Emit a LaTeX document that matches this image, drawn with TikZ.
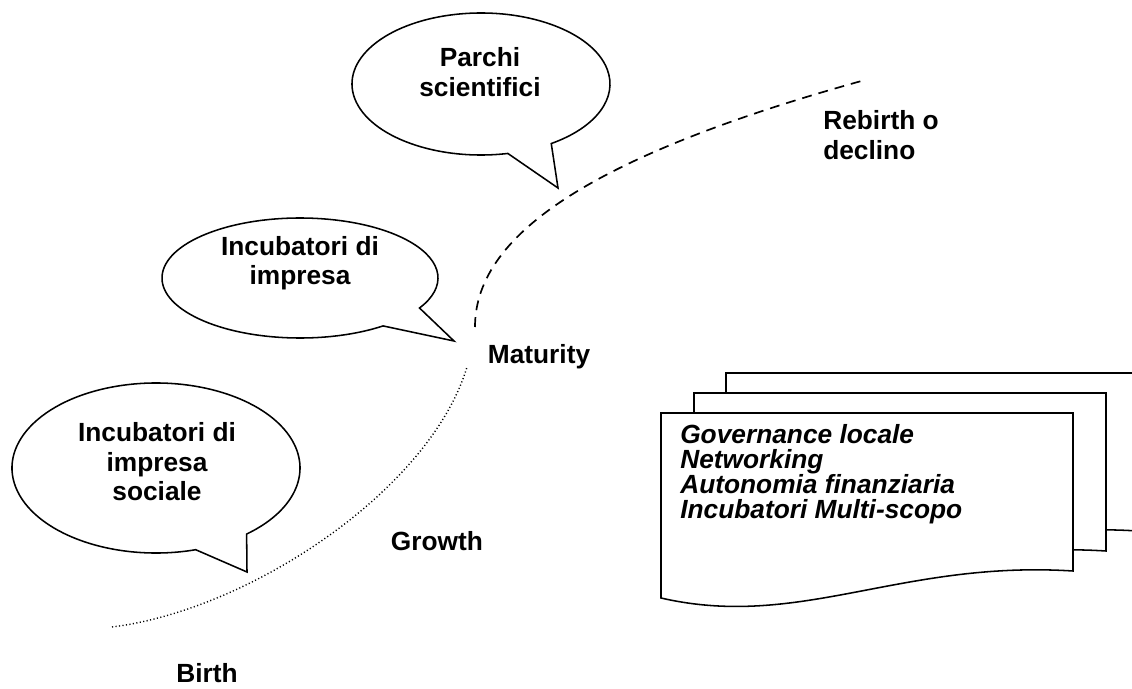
\documentclass[tikz,border=0pt]{standalone}
\usepackage{fontspec}
\setmainfont{Liberation Sans}
\tikzset{
  etiq/.style={font=\bfseries\fontsize{18.7}{21}\selectfont, align=center, inner sep=0pt},
  bulle/.style={draw, line width=1.1pt, fill=white, line join=miter},
  feuille/.style={draw, line width=1.1pt, fill=white},
  tratteggio/.style={line width=1.2pt, dash pattern=on 7pt off 5pt},
  puntini/.style={line width=1pt, dash pattern=on 0.8pt off 1.7pt}
}
\begin{document}
\begin{tikzpicture}[x=0.025cm, y=-0.025cm]
\useasboundingbox (0,0) rectangle (1132,689);
\clip (0,0) rectangle (1132,689);

% bulles
\draw [bulle] (481,84) ++(78:129 and 71) arc[start angle=78, end angle=417, x radius=129, y radius=71] -- (558,188) -- cycle;
\draw [bulle] (300,278) ++(53:138 and 60) arc[start angle=53, end angle=390, x radius=138, y radius=60] -- (454,341) -- cycle;
\draw [bulle] (156,468) ++(74:144 and 85) arc[start angle=74, end angle=411, x radius=144, y radius=85] -- (247,572) -- cycle;
\node [etiq] (parchi) at (480,72) {Parchi\\scientifici};
\node [etiq] (incub) at (300,263) {Incubatori di\\impresa};
\node [etiq] (sociale) at (157,462) {Incubatori di\\impresa\\sociale};

% courbe
\coordinate (nascita) at (112,627);
\coordinate (crescita) at (467,367);
\coordinate (maturo) at (475,327);
\coordinate (rinascita) at (865,80);
\draw [puntini] (nascita) .. controls (250,610) and (430,490) .. (crescita);
\draw [tratteggio] (maturo) .. controls (475,230) and (605,152) .. (rinascita);

\node [etiq] (birth) at (207,673) {Birth};
\node [etiq] (growth) at (437,541) {Growth};
\node [etiq] (maturity) at (539,357) {Maturity};
\node [etiq, align=left, anchor=west] (rebirth) at (823,135) {Rebirth o\\declino};

% documents
\foreach \dx/\dy in {65/-40,33/-20,0/0}
  \draw [feuille, shift={(\dx,\dy)}] (661,413) -- (1073,413) -- (1073,571) .. controls (900,560) and (800,630) .. (661,598) -- cycle;
\node [etiq, font=\bfseries\itshape\fontsize{18.7}{17.8}\selectfont, align=left, anchor=west] (liste) at (680,474) {Governance locale\\Networking\\Autonomia finanziaria\\Incubatori Multi-scopo};
\end{tikzpicture}
\end{document}
